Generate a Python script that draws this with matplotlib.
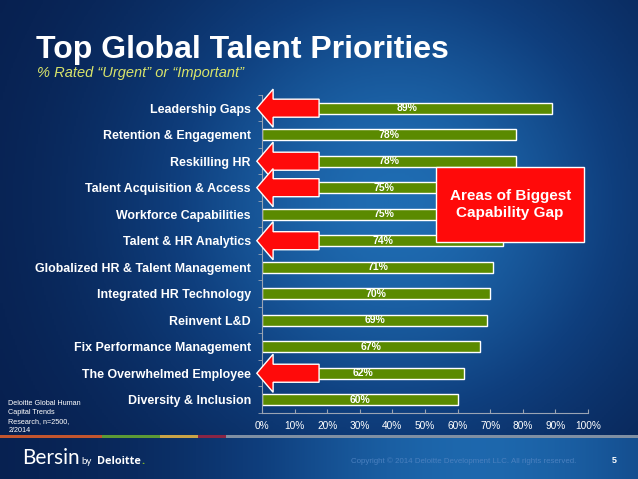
import numpy as np
import matplotlib.pyplot as plt
from matplotlib.colors import LinearSegmentedColormap
from matplotlib.patches import Polygon, Rectangle

# data
categories = ['Leadership Gaps', 'Retention & Engagement', 'Reskilling HR',
              'Talent Acquisition & Access', 'Workforce Capabilities',
              'Talent & HR Analytics', 'Globalized HR & Talent Management',
              'Integrated HR Technology', 'Reinvent L&D',
              'Fix Performance Management', 'The Overwhelmed Employee',
              'Diversity & Inclusion']
values = [89, 78, 78, 75, 75, 74, 71, 70, 69, 67, 62, 60]
highlighted = ['Leadership Gaps', 'Reskilling HR', 'Talent Acquisition & Access',
               'Talent & HR Analytics', 'The Overwhelmed Employee']
x_ticks = [0, 10, 20, 30, 40, 50, 60, 70, 80, 90, 100]

plt.rcParams['font.family'] = ['Liberation Sans', 'DejaVu Sans']

fig = plt.figure(figsize=(6.38, 4.79), dpi=100)

# background gradient
bg = fig.add_axes([0, 0, 1, 1])
bg.set_axis_off()
xx, yy = np.meshgrid(np.linspace(0, 1, 320), np.linspace(0, 1, 240))
glow = np.exp(-((xx - 0.62) / 0.42) ** 2 - ((yy - 0.42) / 0.55) ** 2)
cmap = LinearSegmentedColormap.from_list('bgblue', ['#071f4e', '#0f3f7e', '#1f6cb2'])
bg.imshow(glow, cmap=cmap, extent=[0, 1, 0, 1], aspect='auto', origin='upper')
# footer band
fx = np.linspace(0, 1, 320)[None, :].repeat(20, axis=0)
foot = np.exp(-((fx - 0.75) / 0.42) ** 2) * 0.95
bg.imshow(foot, cmap=cmap, extent=[0, 1, 0, 0.088], aspect='auto', vmin=0, vmax=1)
strip = [(0.0, 0.16, '#c2552e'), (0.16, 0.25, '#5c9a35'), (0.25, 0.31, '#c9a347'),
         (0.31, 0.355, '#8a2545'), (0.355, 1.0, '#7f8fa3')]
for x0, x1, c in strip:
    bg.add_patch(Rectangle((x0, 0.086), x1 - x0, 0.006, color=c, lw=0))
bg.set_xlim(0, 1)
bg.set_ylim(0, 1)

fig.text(0.056, 0.878, 'Top Global Talent Priorities', color='white',
         fontsize=23, fontweight='bold')
fig.text(0.058, 0.84, '% Rated \u201cUrgent\u201d or \u201cImportant\u201d',
         color='#d9e46a', fontsize=10.5, style='italic')

ax = fig.add_axes([0.4107, 0.1378, 0.511, 0.664])
ax.patch.set_alpha(0)
y = np.arange(len(categories))
bars = ax.barh(y, values, height=0.42, color='#5a8a00', edgecolor='white', linewidth=1)
for yi, v in zip(y, values):
    ax.text(v / 2, yi, f'{v}%', ha='center', va='center', color='white',
            fontsize=7.5, fontweight='bold')
ax.set_xlim(0, 100)
ax.set_ylim(len(categories) - 0.5, -0.5)
ax.set_yticks(y)
ax.set_yticklabels(categories, color='white', fontsize=8.9, fontweight='bold')
ax.tick_params(axis='y', length=0, pad=8)
ax.set_yticks(np.arange(-0.5, len(categories)), minor=True)
ax.tick_params(axis='y', which='minor', length=3, color='#9aa4b4', direction='out')
ax.set_xticks(x_ticks)
ax.set_xticklabels([f'{t}%' for t in x_ticks], color='white', fontsize=7.3)
ax.tick_params(axis='x', length=3, color='#9aa4b4', direction='in', pad=6)
for s in ['top', 'right']:
    ax.spines[s].set_visible(False)
for s in ['left', 'bottom']:
    ax.spines[s].set_color('#9aa4b4')
    ax.spines[s].set_linewidth(0.8)

# red arrows at the biggest capability gaps
for name in highlighted:
    yc = categories.index(name)
    pts = [(-1.6, yc), (3.4, yc - 0.72), (3.4, yc - 0.34), (17.5, yc - 0.34),
           (17.5, yc + 0.34), (3.4, yc + 0.34), (3.4, yc + 0.72)]
    ax.add_patch(Polygon(pts, closed=True, facecolor='#ff0a0a', edgecolor='white',
                         linewidth=1, clip_on=False, zorder=5))

ax.add_patch(Rectangle((53.4, 2.23), 45.4, 2.8, facecolor='#ff0a0a', edgecolor='white',
                       linewidth=1, clip_on=False, zorder=6))
ax.text(76.1, 3.63, 'Areas of Biggest\nCapability Gap', ha='center', va='center',
        color='white', fontsize=11, fontweight='bold', zorder=7, linespacing=1.25)

fig.text(0.013, 0.099, 'Deloitte Global Human\nCapital Trends\nResearch, n=2500,\n2/2014',
         color='white', fontsize=5.2, linespacing=1.35)

# footer
fig.text(0.035, 0.031, 'Bersin', color='white', fontsize=15,
         family=['Lato', 'Open Sans', 'DejaVu Sans'])
fig.text(0.127, 0.031, 'by', color='white', fontsize=7,
         family=['Lato', 'Open Sans', 'DejaVu Sans'])
fig.text(0.152, 0.031, 'Deloitte', color='white', fontsize=7.8, fontweight='bold',
         family=['Open Sans', 'DejaVu Sans'])
fig.text(0.222, 0.031, '.', color='#86bc25', fontsize=7.8, fontweight='bold',
         family=['Open Sans', 'DejaVu Sans'])
fig.text(0.55, 0.033, 'Copyright \u00a9 2014 Deloitte Development LLC. All rights reserved.',
         color='#4a80bf', fontsize=5.7)
fig.text(0.959, 0.033, '5', color='white', fontsize=6.5, fontweight='bold')

fig.savefig('out.png', dpi=100)
